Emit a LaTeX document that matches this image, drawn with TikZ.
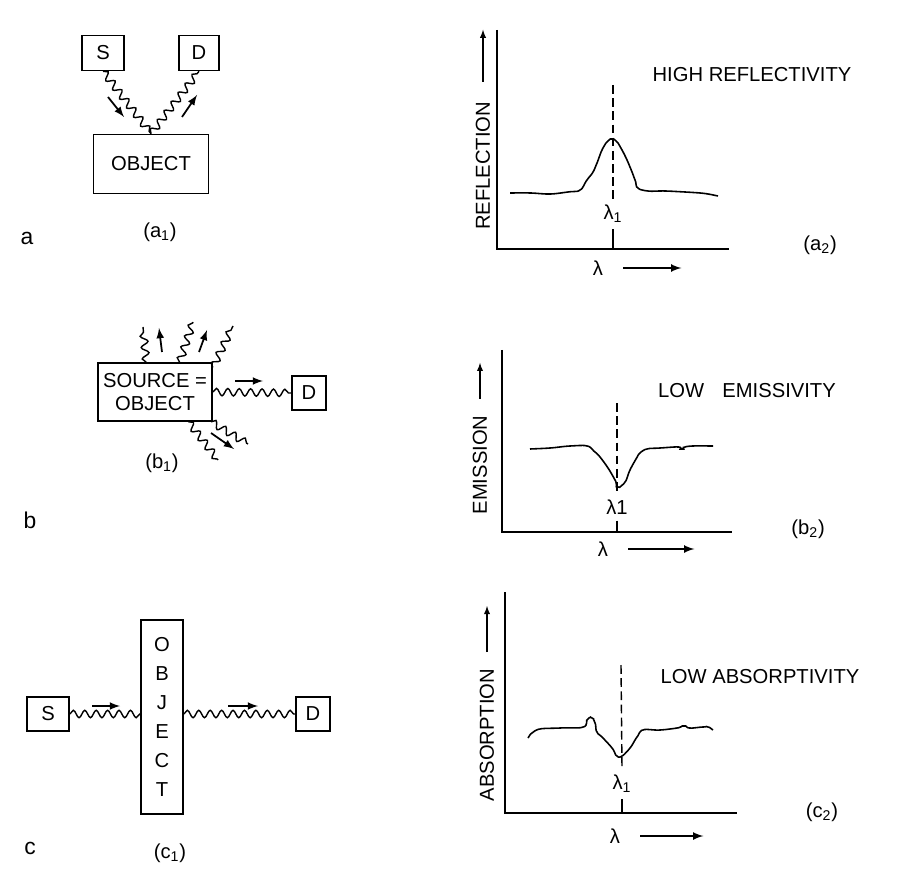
\documentclass[tikz,border=0pt]{standalone}
\usepackage{fontspec}
\setmainfont{Liberation Sans}
\usepackage{tikz}
\usetikzlibrary{arrows}
\usetikzlibrary{positioning}
\usetikzlibrary{decorations.pathmorphing}

\tikzset{
  box/.style={rectangle, draw=black, line width=0.9pt, inner sep=0pt},
  wave/.style={decorate, decoration={snake, amplitude=2.1pt, segment length=6.5pt}, line width=0.8pt},
  ray/.style={-latex, line width=1pt},
  axis/.style={line width=1pt},
  thin arrow/.style={-latex, line width=0.6pt},
  guide/.style={line width=0.8pt, dash pattern=on 5pt off 2.5pt},
  curve/.style={line width=0.9pt, rounded corners=1pt},
  big/.style={font=\fontsize{13}{15}\selectfont},
}

\begin{document}
\begin{tikzpicture}[x=0.02cm, y=-0.02cm, font=\fontsize{11.5}{13}\selectfont]
\useasboundingbox (0,0) rectangle (915,881);

% (a1)
\node [box, minimum width=0.84cm, minimum height=0.7cm] (Sa) at (103, 53) {S};
\node [box, minimum width=0.8cm, minimum height=0.7cm] (Da) at (199, 53) {D};
\node [box, minimum width=2.3cm, minimum height=1.18cm] (obja) at (151, 164) {OBJECT};
\draw [wave] (Sa.south) to (obja.north);
\draw [wave] (obja.north) to (Da.south);
\draw [ray] (108, 97) to (124, 117);
\draw [ray] (182, 117) to (197, 95);
\node (capa1) at (160, 232) {(a\textsubscript{1})};
\node [big] (pa) at (27, 238) {a};

% (a2)
\coordinate (Oa) at (497, 249);
\draw [axis] (497, 30) to (Oa) to (729, 249);
\node [rotate=90] (ylaba) at (483, 166) {REFLECTION};
\draw [thin arrow] ([yshift=8pt]ylaba.east) to ++(0, -52);
\node (lama) at (613, 214) {λ\textsubscript{1}};
\coordinate (topa) at (613, 85);
\draw [guide] (topa) to (lama.north);
\draw [line width=0.8pt] (lama.south) to (lama.south |- Oa);
\draw [curve] plot [smooth, tension=0.5] coordinates {(510,193) (530,193) (550,194) (568,192)
  (580,190) (587,180) (593,172) (597,163) (602,150) (607,142) (612,139) (617,142) (622,150)
  (627,160) (632,172) (635,180) (638,188) (648,191) (665,191) (685,192) (700,193) (708,194) (718,196)};
\node (ttla) at (752, 75) {HIGH REFLECTIVITY};
\node (capa2) at (820, 245) {(a\textsubscript{2})};
\node (xlaba) at (598, 268) {λ};
\draw [ray] ([xshift=8pt]xlaba.east) to ++(58, 0);

% (b1)
\node [box, minimum width=2.28cm, minimum height=1.16cm, align=center] (srcb) at (155, 392) {SOURCE =\\OBJECT};
\node [box, minimum width=0.68cm, minimum height=0.68cm] (Db) at (309, 393) {D};
\draw [wave] (srcb.east) to (Db.west);
\draw [ray] (235, 381) to (263, 381);
\coordinate (u1) at (143, 327);
\coordinate (u2) at (193, 322);
\coordinate (u3) at (233, 326);
\coordinate (d1) at (218, 460);
\coordinate (d2) at (248, 444);
\draw [wave] ([xshift=-5pt]srcb.north) to (u1);
\draw [wave] ([xshift=14pt]srcb.north) to (u2);
\draw [wave] ([yshift=-3pt]srcb.north east) to (u3);
\draw [wave] ([xshift=19pt]srcb.south) to (d1);
\draw [wave] ([xshift=-1pt]srcb.south east) to (d2);
\draw [ray] (162, 352) to (159, 328);
\draw [ray] (199, 352) to (207, 330);
\draw [ray] (211, 433) to (234, 449);
\node (capb1) at (162, 463) {(b\textsubscript{1})};
\node [big] (pb) at (30, 520) {b};

% (b2)
\coordinate (Ob) at (502, 532);
\draw [axis] (502, 350) to (Ob) to (732, 532);
\node [rotate=90] (ylabb) at (480, 465) {EMISSION};
\draw [thin arrow] ([yshift=6pt]ylabb.east) to ++(0, -36);
\node (lamb) at (617, 507) {λ1};
\coordinate (topb) at (617, 403);
\draw [guide] (topb) to (lamb.north);
\draw [line width=0.8pt] (lamb.south) to (lamb.south |- Ob);
\draw [curve] plot [smooth, tension=0.5] coordinates {(530,449) (550,448) (570,446) (587,446)
  (595,452) (600,457) (608,468) (615,480) (618,487) (625,482) (630,470) (636,459) (640,453)
  (647,449) (660,448) (678,447) (682,449) (685,447) (693,446) (713,446)};
\node (ttlb) at (747, 391) {LOW\hspace{0.9em}EMISSIVITY};
\node (capb2) at (808, 529) {(b\textsubscript{2})};
\node (xlabb) at (603, 549) {λ};
\draw [ray] ([xshift=8pt]xlabb.east) to ++(66, 0);

% (c1)
\node [box, minimum width=0.84cm, minimum height=3.88cm, align=center,
  font=\fontsize{11.5}{16.5}\selectfont] (objc) at (162, 717) {O\\B\\J\\E\\C\\T};
\node [box, minimum width=0.84cm, minimum height=0.68cm] (Sc) at (48, 714) {S};
\node [box, minimum width=0.68cm, minimum height=0.68cm] (Dc) at (313, 714) {D};
\draw [wave] (Sc.east) to (Sc.east -| objc.west);
\draw [wave] (objc.east |- Dc.west) to (Dc.west);
\draw [ray] (92, 706) to (120, 706);
\draw [ray] (228, 706) to (258, 706);
\node (capc1) at (170, 853) {(c\textsubscript{1})};
\node [big] (pc) at (30, 848) {c};

% (c2)
\coordinate (Oc) at (505, 813);
\draw [axis] (505, 592) to (Oc) to (737, 813);
\node [rotate=90] (ylabc) at (487, 735) {ABSORPTION};
\draw [thin arrow] ([yshift=6pt]ylabc.east) to ++(0, -46);
\node (lamc) at (622, 784) {λ\textsubscript{1}};
\coordinate (topc) at (621, 665);
\draw [guide] (topc) to (lamc.north);
\draw [line width=0.8pt] (lamc.south) to (lamc.south |- Oc);
\draw [curve] plot [smooth, tension=0.5] coordinates {(528,738) (532,733) (540,729) (560,728)
  (583,727) (588,719) (592,718) (595,723) (597,732) (603,738) (612,748) (617,756) (622,756)
  (630,748) (637,737) (643,730) (660,730) (677,728) (684,726) (690,728) (703,727) (708,727) (713,730)};
\node (ttlc) at (760, 677) {LOW ABSORPTIVITY};
\node (capc2) at (822, 812) {(c\textsubscript{2})};
\node (xlabc) at (615, 836) {λ};
\draw [ray] ([xshift=8pt]xlabc.east) to ++(63, 0);
\end{tikzpicture}
\end{document}
